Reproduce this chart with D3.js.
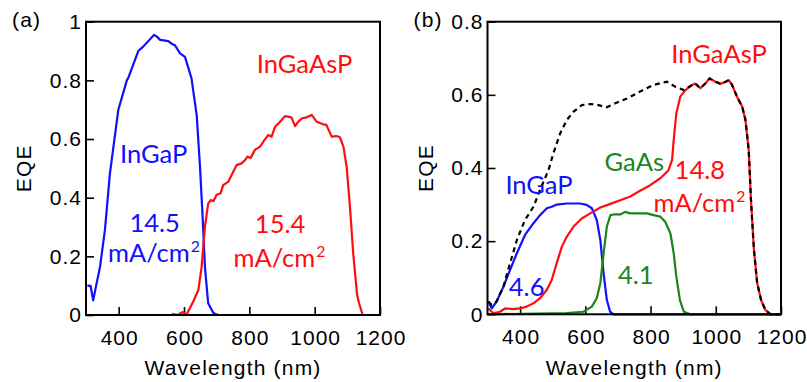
<!DOCTYPE html>
<html>
<head>
<meta charset="utf-8">
<script src="https://cdn.jsdelivr.net/npm/d3@7"></script>
<style>
  body { margin: 0; background: #fff; }
  .tick text { font-family: "Liberation Sans", Arial, sans-serif; font-size: 21px; letter-spacing: 1px; fill: #000; }
  .lbl { font-family: Lato, "Open Sans", sans-serif; font-size: 25.5px; }
  .axt { font-family: "Liberation Sans", Arial, sans-serif; font-size: 21px; letter-spacing: 1.2px; }
</style>
</head>
<body>
<div id="wrapper"></div>
<script>

// panel (a): single-junction reference cells, [wavelength nm, EQE]
const aInGaP = [[304,0.10],[314,0.099],[322,0.05],[343,0.165],[358,0.29],[373,0.48],[399,0.70],[425,0.80],[430,0.81],
  [460,0.90],[475,0.915],[508,0.955],[516,0.95],[527,0.938],[552,0.934],[562,0.925],[572,0.92],[588,0.892],[603,0.88],
  [623,0.807],[639,0.68],[649,0.505],[657,0.335],[664,0.165],[674,0.04],[690,0.007],[704,0],[750,0]]
const aInGaAsP = [[562,0.004],[580,0],[596,0.01],[607,0],[628,0.045],[644,0.085],[654,0.165],[664,0.30],[674,0.38],
  [682,0.392],[690,0.388],[700,0.41],[712,0.415],[720,0.443],[736,0.455],[751,0.489],[761,0.511],[776,0.517],[787,0.528],
  [794,0.54],[804,0.535],[817,0.563],[833,0.574],[843,0.591],[858,0.614],[868,0.608],[879,0.642],[894,0.659],[909,0.678],
  [929,0.674],[940,0.644],[950,0.659],[960,0.67],[975,0.674],[991,0.682],[1006,0.659],[1026,0.65],[1036,0.648],
  [1052,0.608],[1067,0.61],[1077,0.606],[1088,0.574],[1098,0.505],[1108,0.369],[1118,0.21],[1130,0.068],[1136,0.04],[1147,0]]

// panel (b): subcells of the triple junction
const bInGaP = [[303,0.035],[313,0.016],[328,0.035],[349,0.076],[369,0.121],[390,0.167],[415,0.217],[441,0.249],
  [461,0.271],[482,0.29],[497,0.294],[512,0.30],[543,0.303],[584,0.303],[604,0.299],[620,0.29],[635,0.258],[646,0.203],
  [656,0.112],[666,0.039],[676,0.007],[687,0],[1200,0]]
const bGaAs = [[300,0],[450,0.002],[543,0.003],[594,0.007],[620,0.021],[635,0.044],[646,0.085],[656,0.167],[666,0.24],
  [677,0.271],[687,0.273],[707,0.273],[722,0.28],[737,0.276],[758,0.276],[789,0.276],[809,0.271],[830,0.267],[845,0.253],
  [861,0.221],[871,0.167],[879,0.103],[890,0.039],[902,0.007],[922,0],[1200,0]]
const bInGaAsP = [[302,0.016],[318,0.003],[338,0.007],[354,0.016],[379,0.014],[400,0.016],[420,0.021],[441,0.03],
  [461,0.044],[482,0.067],[497,0.094],[512,0.139],[528,0.185],[543,0.212],[564,0.24],[589,0.262],[615,0.276],[646,0.292],
  [677,0.302],[707,0.312],[738,0.322],[768,0.338],[799,0.353],[830,0.372],[855,0.394],[866,0.422],[871,0.476],[879,0.549],
  [891,0.595],[907,0.613],[922,0.624],[937,0.631],[953,0.618],[968,0.631],[981,0.645],[999,0.636],[1014,0.63],[1030,0.636],
  [1040,0.64],[1050,0.627],[1065,0.595],[1081,0.568],[1091,0.531],[1101,0.449],[1108,0.312],[1117,0.176],[1127,0.085],
  [1139,0.039],[1152,0.012],[1168,0],[1200,0]]
const bTotal = [[302,0.035],[313,0.026],[328,0.035],[349,0.076],[369,0.139],[390,0.203],[415,0.258],[441,0.294],[461,0.34],
  [487,0.394],[502,0.44],[523,0.495],[543,0.531],[564,0.554],[589,0.572],[615,0.575],[640,0.572],[666,0.566],[692,0.577],
  [728,0.59],[768,0.609],[809,0.627],[850,0.636],[876,0.622],[902,0.613],[922,0.624],[937,0.631],[953,0.618],[968,0.631],
  [981,0.645],[999,0.636],[1014,0.63],[1030,0.636],[1040,0.64],[1050,0.627],[1065,0.595],[1081,0.568],[1091,0.531],
  [1101,0.449],[1108,0.312],[1117,0.176],[1127,0.085],[1139,0.039],[1152,0.012],[1168,0],[1200,0]]

const xTicks = [400, 600, 800, 1000, 1200]
const aYTicks = [0, 0.2, 0.4, 0.6, 0.8, 1]
const bYTicks = [0, 0.2, 0.4, 0.6, 0.8]

// text annotations placed in data units: [text, superscript, wavelength, eqe, colour]
const aLabels = [["InGaAsP","",969,0.825,"red"],["InGaP","",507,0.518,"blue"],["14.5","",510,0.283,"blue"],
  ["mA/cm","2",508,0.181,"blue"],["15.4","",894,0.28,"red"],["mA/cm","2",892,0.164,"red"]]
const bLabels = [["InGaAsP","",1010,0.687,"red"],["GaAs","",750,0.392,"green"],["14.8","",951,0.37,"red"],
  ["mA/cm","2",950,0.28,"red"],["InGaP","",458,0.329,"blue"],["4.6","",420,0.05,"blue"],["4.1","",755,0.083,"green"]]

const colors = { red: "#ff0d0d", blue: "#1010ff", green: "#1a861a", black: "#000" }

const svg = d3.select("#wrapper").append("svg")
  .attr("width", 807)
  .attr("height", 382)

function drawPanel(opts) {
  const x = d3.scaleLinear().domain([300, 1200]).range([opts.left, opts.right])
  const y = d3.scaleLinear().domain([0, opts.yMax]).range([opts.bottom, opts.top])
  const g = svg.append("g")

  // axes with inward ticks
  const xAxis = g.append("g")
    .attr("transform", `translate(0,${opts.bottom})`)
    .call(d3.axisBottom(x).tickValues(xTicks).tickSize(-8).tickPadding(10).tickFormat(d3.format("d")))
  const yAxis = g.append("g")
    .attr("transform", `translate(${opts.left},0)`)
    .call(d3.axisLeft(y).tickValues(opts.yTicks).tickSize(-8).tickPadding(5).tickFormat(d3.format("~g")))
  for (const ax of [xAxis, yAxis]) {
    ax.select(".domain").remove()
    ax.selectAll(".tick line").attr("stroke", "#000").attr("stroke-width", 1.6)
  }
  xAxis.selectAll(".tick text").attr("dy", "0.95em").attr("dx", "0.5px")
  yAxis.selectAll(".tick text").attr("dx", "1px")

  const line = d3.line().x(d => x(d[0])).y(d => y(d[1]))
  for (const s of opts.series) {
    g.append("path")
      .datum(s.data)
      .attr("fill", "none")
      .attr("stroke", colors[s.color])
      .attr("stroke-width", 2.2)
      .attr("stroke-linejoin", "round")
      .attr("stroke-dasharray", s.dash || null)
      .attr("d", line)
  }

  g.append("rect")
    .attr("x", opts.left).attr("y", opts.top)
    .attr("width", opts.right - opts.left).attr("height", opts.bottom - opts.top)
    .attr("fill", "none").attr("stroke", "#000").attr("stroke-width", 2)

  const lbl = g.selectAll(".lbl")
    .data(opts.labels)
    .join("text")
      .attr("class", "lbl")
      .attr("x", d => x(d[2]))
      .attr("y", d => y(d[3]))
      .attr("text-anchor", "middle")
      .attr("fill", d => colors[d[4]])
  lbl.append("tspan").text(d => d[0])
  lbl.filter(d => d[1]).append("tspan")
    .attr("font-size", "0.62em")
    .attr("dy", "-0.62em")
    .attr("dx", "1")
    .text(d => d[1])

  g.append("text").attr("class", "axt")
    .attr("x", (opts.left + opts.right) / 2).attr("y", 375)
    .attr("text-anchor", "middle")
    .text("Wavelength (nm)")
  g.append("text").attr("class", "axt")
    .attr("transform", `translate(${opts.left - 55},${(opts.top + opts.bottom) / 2}) rotate(-90)`)
    .attr("text-anchor", "middle")
    .text("EQE")
  g.append("text").attr("class", "axt")
    .attr("x", opts.left - 74).attr("y", 27)
    .text(opts.tag)
}

drawPanel({
  tag: "(a)", left: 86, right: 380, top: 21.7, bottom: 315, yMax: 1, yTicks: aYTicks,
  series: [{ data: aInGaP, color: "blue" }, { data: aInGaAsP, color: "red" }],
  labels: aLabels
})

drawPanel({
  tag: "(b)", left: 487.5, right: 781, top: 21.7, bottom: 314.3, yMax: 0.8, yTicks: bYTicks,
  series: [{ data: bInGaP, color: "blue" }, { data: bGaAs, color: "green" },
    { data: bInGaAsP, color: "red" }, { data: bTotal, color: "black", dash: "5,4" }],
  labels: bLabels
})

</script>
</body>
</html>
